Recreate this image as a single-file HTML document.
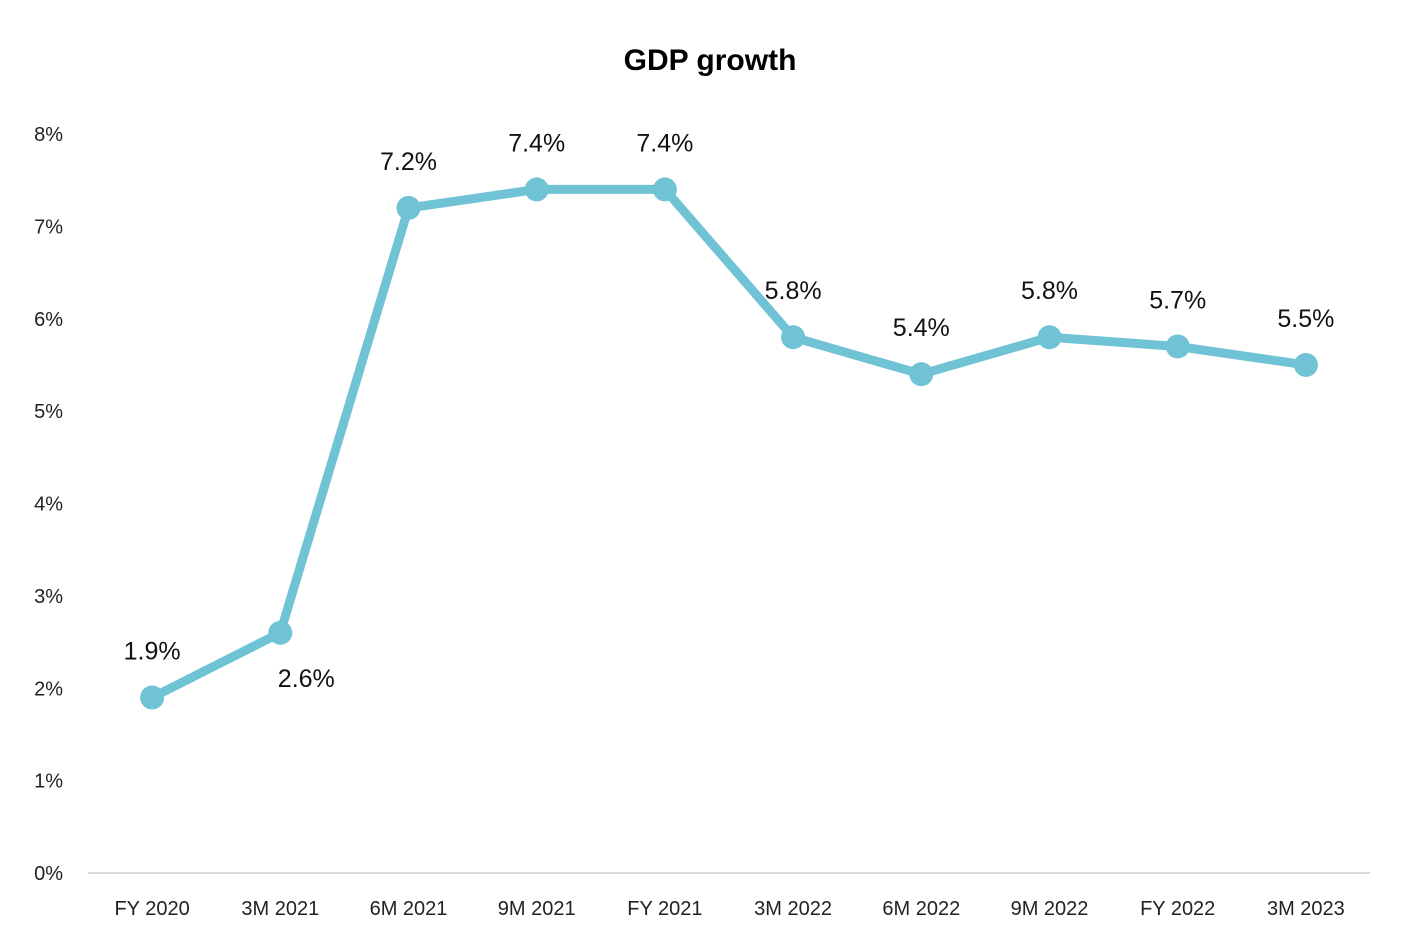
<!DOCTYPE html>
<html><head><meta charset="utf-8"><style>
html,body{margin:0;padding:0;background:#fff;}
svg{display:block;font-family:"Liberation Sans",sans-serif;}
</style></head><body>
<svg id="chart" width="1422" height="952">
<text x="710" y="70" text-anchor="middle" font-size="30" font-weight="bold" fill="#000">GDP growth</text>
<g id="yaxis"></g>
<g id="xaxis"></g>
<line x1="88" y1="873" x2="1370" y2="873" stroke="#d9d9d9" stroke-width="2"/>
<g id="series"></g>
</svg>
<script>
const categories=["FY 2020","3M 2021","6M 2021","9M 2021","FY 2021","3M 2022","6M 2022","9M 2022","FY 2022","3M 2023"];
const values=[1.9,2.6,7.2,7.4,7.4,5.8,5.4,5.8,5.7,5.5];
const yTicks=[0,1,2,3,4,5,6,7,8];
const NS="http://www.w3.org/2000/svg";
const x0=88,x1=1370,yBase=873,yTop=134,yMax=8;
const band=(x1-x0)/categories.length;
const xs=i=>x0+band*(i+0.5);
const ys=v=>yBase-(yBase-yTop)*v/yMax;
function mk(tag,attrs,parent){const e=document.createElementNS(NS,tag);for(const k in attrs)e.setAttribute(k,attrs[k]);parent.appendChild(e);return e;}
const ya=document.getElementById('yaxis');
yTicks.forEach(t=>{const e=mk('text',{x:63,y:ys(t)+7,'text-anchor':'end','font-size':20,fill:'#222'},ya);e.textContent=t+'%';

});
const xa=document.getElementById('xaxis');
categories.forEach((c,i)=>{const e=mk('text',{x:xs(i),y:915,'text-anchor':'middle','font-size':20,fill:'#222'},xa);e.textContent=c;

});
const s=document.getElementById('series');
const pl=mk('polyline',{points:values.map((v,i)=>xs(i)+','+ys(v)).join(' '),fill:'none',stroke:'#70c2d5','stroke-width':9,'stroke-linejoin':'round'},s);


values.forEach((v,i)=>{
const c=mk('circle',{cx:xs(i),cy:ys(v),r:12,fill:'#70c2d5'},s);


const below=i===1;
const t=mk('text',{x:xs(i)+(below?26:0),y:ys(v)+(below?54:-38),'text-anchor':'middle','font-size':25,fill:'#111'},s);
t.textContent=v.toFixed(1)+'%';


});
</script>
</body></html>
